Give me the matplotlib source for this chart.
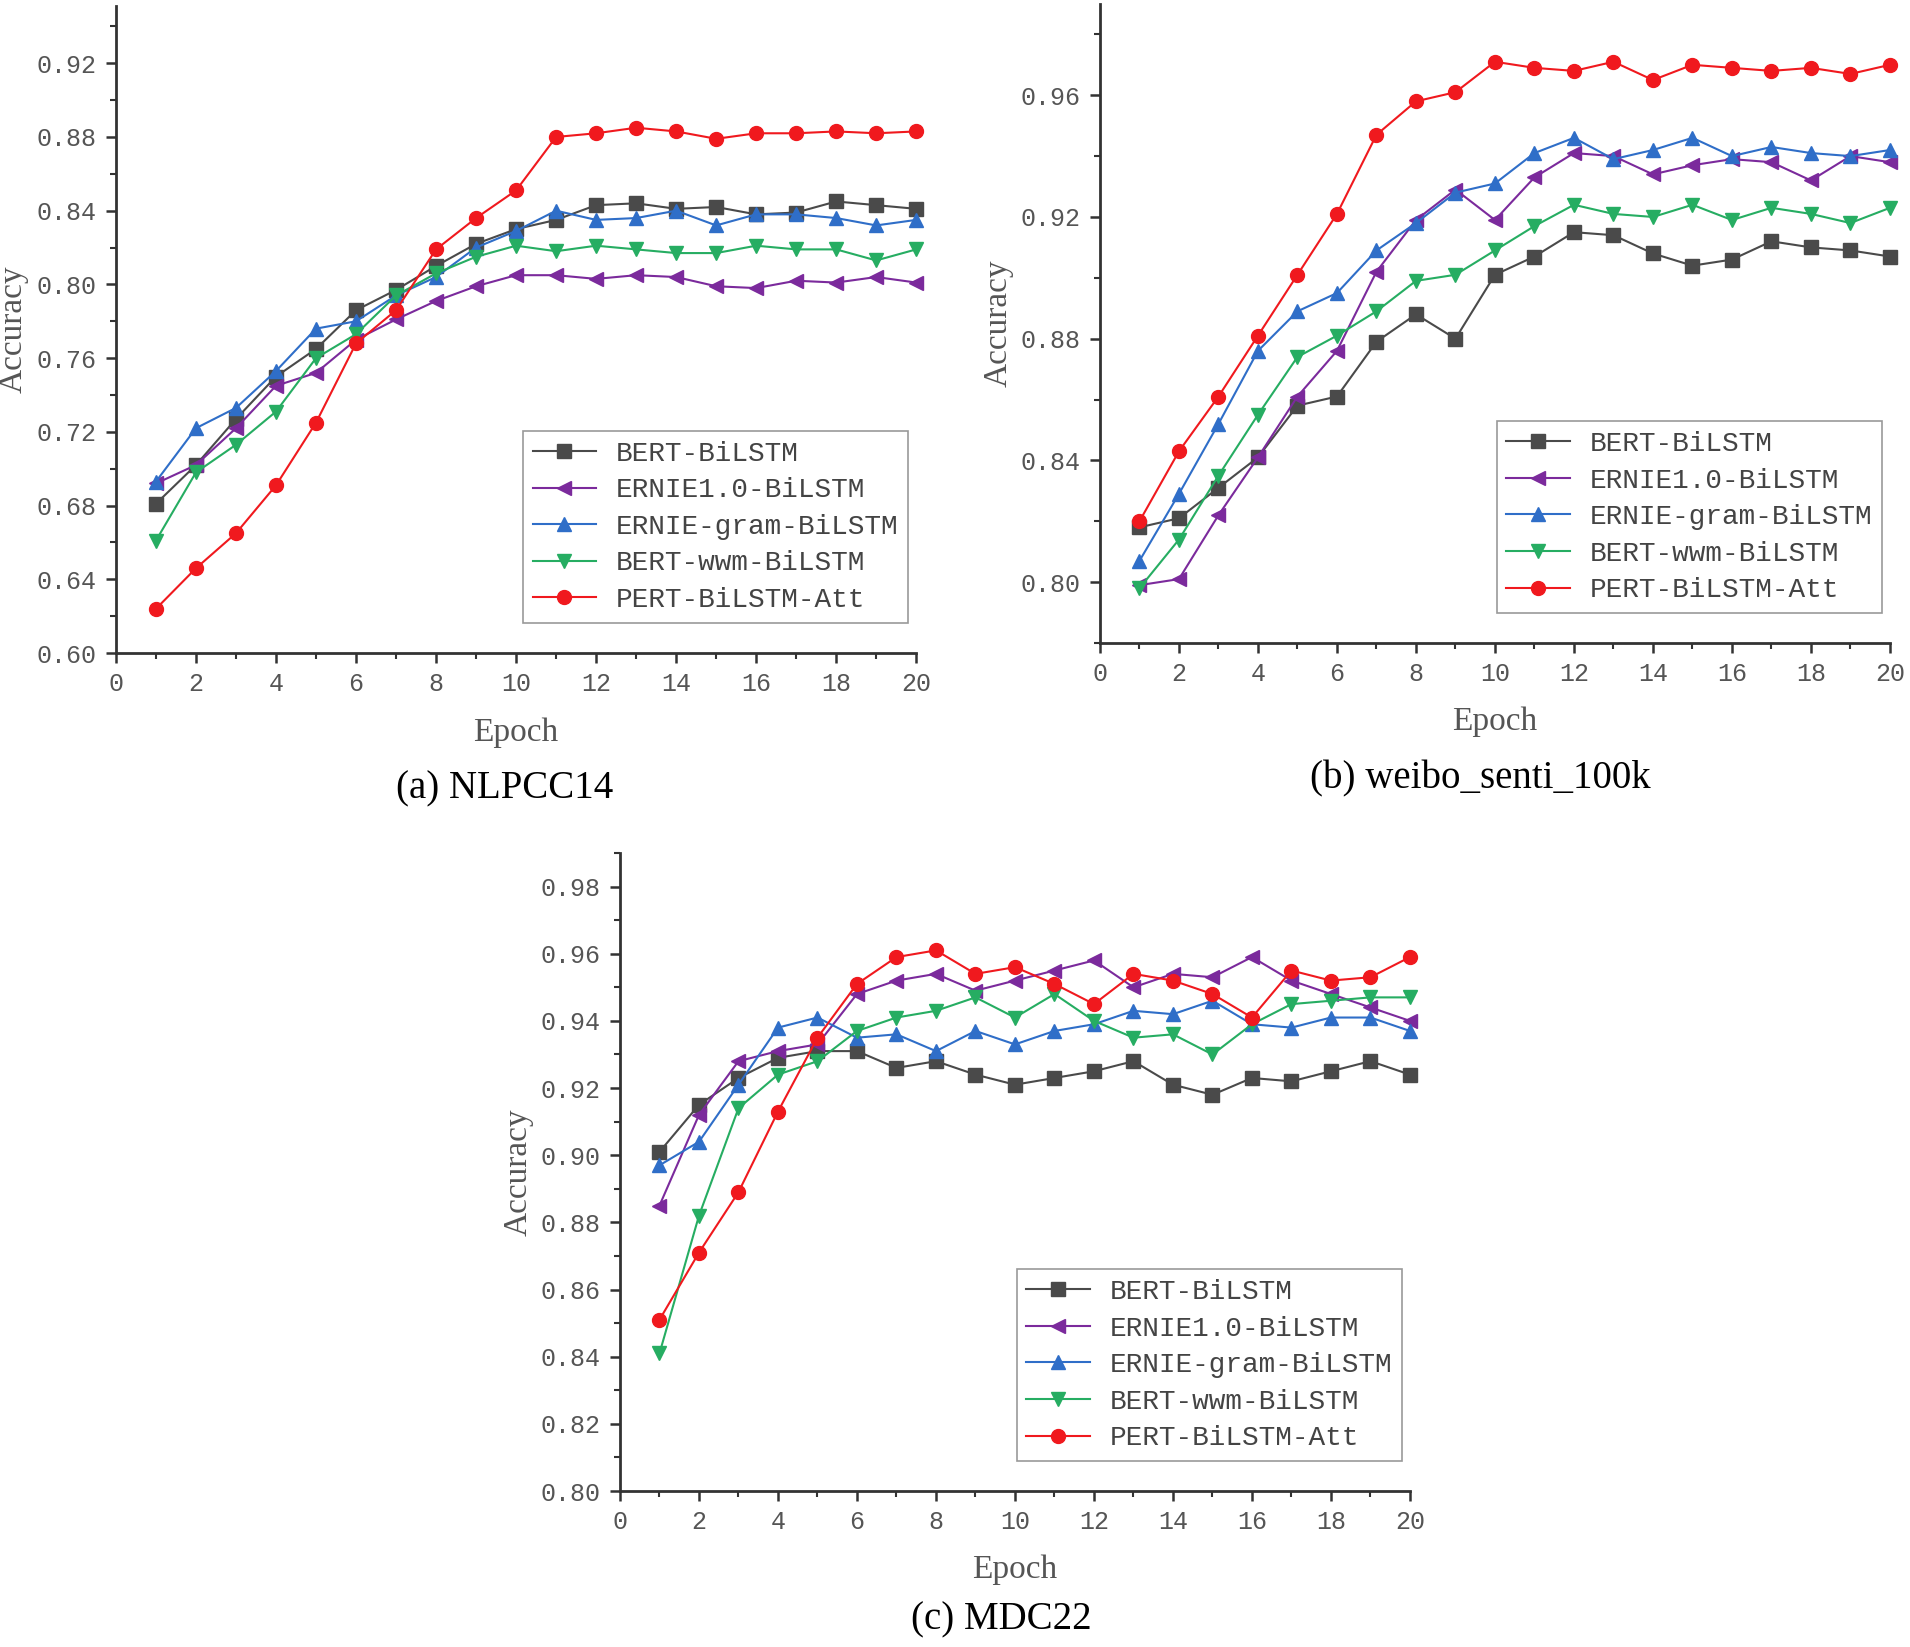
#! /usr/bin/env python3

import matplotlib
matplotlib.use('Agg')
import matplotlib.pyplot as plt
from matplotlib.ticker import MultipleLocator, FormatStrFormatter

epochs = list(range(1, 21))
models = ['BERT-BiLSTM', 'ERNIE1.0-BiLSTM', 'ERNIE-gram-BiLSTM', 'BERT-wwm-BiLSTM', 'PERT-BiLSTM-Att']

# (a) NLPCC14
nlpcc_bert = [0.681, 0.702, 0.727, 0.750, 0.765, 0.786, 0.797, 0.810, 0.822, 0.830,
              0.835, 0.843, 0.844, 0.841, 0.842, 0.838, 0.839, 0.845, 0.843, 0.841]
nlpcc_ernie = [0.692, 0.702, 0.722, 0.745, 0.752, 0.770, 0.781, 0.791, 0.799, 0.805,
               0.805, 0.803, 0.805, 0.804, 0.799, 0.798, 0.802, 0.801, 0.804, 0.801]
nlpcc_gram = [0.693, 0.722, 0.733, 0.753, 0.776, 0.780, 0.794, 0.804, 0.820, 0.829,
              0.840, 0.835, 0.836, 0.840, 0.832, 0.838, 0.838, 0.836, 0.832, 0.835]
nlpcc_wwm = [0.661, 0.698, 0.713, 0.731, 0.760, 0.773, 0.794, 0.806, 0.815, 0.821,
             0.818, 0.821, 0.819, 0.817, 0.817, 0.821, 0.819, 0.819, 0.813, 0.819]
nlpcc_pert = [0.624, 0.646, 0.665, 0.691, 0.725, 0.768, 0.786, 0.819, 0.836, 0.851,
              0.880, 0.882, 0.885, 0.883, 0.879, 0.882, 0.882, 0.883, 0.882, 0.883]

# (b) weibo_senti_100k
weibo_bert = [0.818, 0.821, 0.831, 0.841, 0.858, 0.861, 0.879, 0.888, 0.880, 0.901,
              0.907, 0.915, 0.914, 0.908, 0.904, 0.906, 0.912, 0.910, 0.909, 0.907]
weibo_ernie = [0.799, 0.801, 0.822, 0.841, 0.861, 0.876, 0.902, 0.919, 0.929, 0.919,
               0.933, 0.941, 0.940, 0.934, 0.937, 0.939, 0.938, 0.932, 0.940, 0.938]
weibo_gram = [0.807, 0.829, 0.852, 0.876, 0.889, 0.895, 0.909, 0.918, 0.928, 0.931,
              0.941, 0.946, 0.939, 0.942, 0.946, 0.940, 0.943, 0.941, 0.940, 0.942]
weibo_wwm = [0.798, 0.814, 0.835, 0.855, 0.874, 0.881, 0.889, 0.899, 0.901, 0.909,
             0.917, 0.924, 0.921, 0.920, 0.924, 0.919, 0.923, 0.921, 0.918, 0.923]
weibo_pert = [0.820, 0.843, 0.861, 0.881, 0.901, 0.921, 0.947, 0.958, 0.961, 0.971,
              0.969, 0.968, 0.971, 0.965, 0.970, 0.969, 0.968, 0.969, 0.967, 0.970]

# (c) MDC22
mdc_bert = [0.901, 0.915, 0.923, 0.929, 0.931, 0.931, 0.926, 0.928, 0.924, 0.921,
            0.923, 0.925, 0.928, 0.921, 0.918, 0.923, 0.922, 0.925, 0.928, 0.924]
mdc_ernie = [0.885, 0.912, 0.928, 0.931, 0.933, 0.948, 0.952, 0.954, 0.949, 0.952,
             0.955, 0.958, 0.950, 0.954, 0.953, 0.959, 0.952, 0.948, 0.944, 0.940]
mdc_gram = [0.897, 0.904, 0.921, 0.938, 0.941, 0.935, 0.936, 0.931, 0.937, 0.933,
            0.937, 0.939, 0.943, 0.942, 0.946, 0.939, 0.938, 0.941, 0.941, 0.937]
mdc_wwm = [0.841, 0.882, 0.914, 0.924, 0.928, 0.937, 0.941, 0.943, 0.947, 0.941,
           0.948, 0.940, 0.935, 0.936, 0.930, 0.939, 0.945, 0.946, 0.947, 0.947]
mdc_pert = [0.851, 0.871, 0.889, 0.913, 0.935, 0.951, 0.959, 0.961, 0.954, 0.956,
            0.951, 0.945, 0.954, 0.952, 0.948, 0.941, 0.955, 0.952, 0.953, 0.959]

colors = ['#4a4a4a', '#7b2a9c', '#2f6ec8', '#26ad62', '#f0191e']
markers = ['s', '<', '^', 'v', 'o']

MONO = 'Liberation Mono'
SERIF = 'Liberation Serif'


def draw_panel(rect, series, ylim, ymajor, yminor, caption, cap_xy):
    ax = fig.add_axes(rect)
    for i in range(len(models)):
        ax.plot(epochs, series[i], color=colors[i], marker=markers[i],
                markersize=10, linewidth=1.5, label=models[i], clip_on=False, zorder=3)

    ax.set_xlim(0, 20)
    ax.set_ylim(*ylim)
    ax.xaxis.set_major_locator(MultipleLocator(2))
    ax.xaxis.set_minor_locator(MultipleLocator(1))
    ax.yaxis.set_major_locator(MultipleLocator(ymajor))
    ax.yaxis.set_minor_locator(MultipleLocator(yminor))
    ax.yaxis.set_major_formatter(FormatStrFormatter('%.2f'))

    #only left and bottom axes
    ax.spines['top'].set_visible(False)
    ax.spines['right'].set_visible(False)
    for s in ['left', 'bottom']:
        ax.spines[s].set_linewidth(2.0)
        ax.spines[s].set_color('#333333')
    ax.tick_params(which='major', direction='out', length=7, width=1.8,
                   color='#333333', labelsize=18, labelcolor='#555555', pad=7)
    ax.tick_params(which='minor', direction='out', length=4, width=1.5, color='#333333')
    for lab in ax.get_xticklabels() + ax.get_yticklabels():
        lab.set_family(MONO)

    ax.set_xlabel('Epoch', fontsize=24, family=SERIF, color='#555555')
    ax.xaxis.set_label_coords(0.5, -0.10)
    ax.set_ylabel('Accuracy', fontsize=24, family=SERIF, color='#555555')
    ax.yaxis.set_label_coords(-0.109, 0.5)

    leg = ax.legend(loc='lower right', bbox_to_anchor=(0.99, 0.047),
                    prop={'family': MONO, 'size': 20}, fancybox=False,
                    framealpha=1, edgecolor='#999999', handlelength=2.3,
                    labelspacing=0.38, borderpad=0.35, handletextpad=0.7,
                    borderaxespad=0)
    leg.get_frame().set_linewidth(1.2)
    for t in leg.get_texts():
        t.set_color('#444444')

    fig.text(cap_xy[0], cap_xy[1], caption, fontsize=28, family=SERIF,
             ha='center', va='center')
    return ax


fig = plt.figure(figsize=(19.1, 16.47), dpi=100)

draw_panel([0.0607, 0.6035, 0.419, 0.3928],
           [nlpcc_bert, nlpcc_ernie, nlpcc_gram, nlpcc_wwm, nlpcc_pert],
           (0.60, 0.951), 0.04, 0.02, '(a) NLPCC14', (0.264, 0.521))

draw_panel([0.5759, 0.6096, 0.4136, 0.388],
           [weibo_bert, weibo_ernie, weibo_gram, weibo_wwm, weibo_pert],
           (0.78, 0.99), 0.04, 0.02, '(b) weibo_senti_100k', (0.775, 0.527))

draw_panel([0.3246, 0.0947, 0.4136, 0.3874],
           [mdc_bert, mdc_ernie, mdc_gram, mdc_wwm, mdc_pert],
           (0.80, 0.99), 0.02, 0.01, '(c) MDC22', (0.5245, 0.0164))

plt.savefig('out.png', dpi=100)
